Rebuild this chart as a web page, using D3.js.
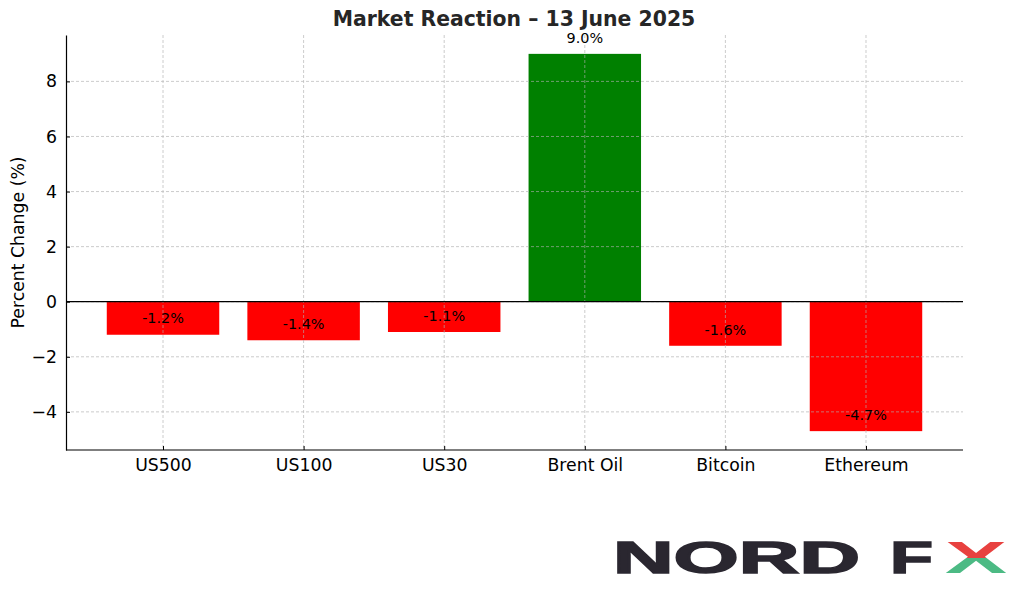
<!DOCTYPE html>
<html><head><meta charset="utf-8">
<script src="https://cdn.jsdelivr.net/npm/d3@7"></script>
<style>html,body{margin:0;padding:0;background:#fff;}svg{display:block;}</style>
</head><body>
<svg id="chart" width="1024" height="591"></svg>
<script>
const categories = ["US500","US100","US30","Brent Oil","Bitcoin","Ethereum"];
const values = [-1.2,-1.4,-1.1,9.0,-1.6,-4.7];
const yTicks = [-4,-2,0,2,4,6,8];
const titleText = "Market Reaction \u2013 13 June 2025";
const yLabel = "Percent Change (%)";

const svg = d3.select("#chart");
const m = {left:66, right:963, top:35, bottom:450};

const x = d3.scaleLinear().domain([-0.69, 5.69]).range([m.left, m.right]);
const y = d3.scaleLinear().domain([-5.385, 9.685]).range([m.bottom, m.top]);
const bw = 0.8;

const font = "'DejaVu Sans', sans-serif";

// bars
svg.append("g").selectAll("rect").data(values).join("rect")
  .attr("x", (d,i)=>x(i-bw/2))
  .attr("width", (d,i)=>x(i+bw/2)-x(i-bw/2))
  .attr("y", d=>y(Math.max(0,d)))
  .attr("height", d=>Math.abs(y(d)-y(0)))
  .attr("fill", d=> d>=0 ? "#008000" : "#ff0000");

// grid
const grid = svg.append("g").attr("stroke","#b0b0b0").attr("stroke-width",0.8).attr("stroke-dasharray","3,2").attr("opacity",0.8);
grid.selectAll("line.h").data(yTicks).join("line").attr("class","h")
  .attr("x1",m.left).attr("x2",m.right).attr("y1",d=>y(d)).attr("y2",d=>y(d));
grid.selectAll("line.v").data(categories).join("line").attr("class","v")
  .attr("x1",(d,i)=>x(i)).attr("x2",(d,i)=>x(i)).attr("y1",m.top).attr("y2",m.bottom);

// zero line
svg.append("line").attr("x1",m.left).attr("x2",m.right).attr("y1",y(0)).attr("y2",y(0))
  .attr("stroke","#000").attr("stroke-width",1.3);

// axes
const yAxis = d3.axisLeft(y).tickValues(yTicks).tickSizeInner(-4).tickSizeOuter(0).tickPadding(9)
  .tickFormat(d=> d<0 ? "\u2212"+Math.abs(d) : String(d));
const gy = svg.append("g").attr("transform",`translate(${m.left},0)`).call(yAxis);
gy.select(".domain").attr("stroke","#000").attr("stroke-width",1.2);
gy.selectAll("text").attr("font-family",font).attr("font-size","17.3px").attr("fill","#000");

const xAxis = d3.axisBottom(x).tickValues(d3.range(categories.length)).tickSizeInner(-4).tickSizeOuter(0).tickPadding(9)
  .tickFormat(i=>categories[i]);
const gx = svg.append("g").attr("transform",`translate(0,${m.bottom})`).call(xAxis);
gx.select(".domain").attr("stroke","#000").attr("stroke-width",1.2).attr("d",`M${m.left},0H${m.right}`);
gx.selectAll("text").attr("font-family",font).attr("font-size","17.3px").attr("fill","#000");

// bar labels
svg.append("g").selectAll("text").data(values).join("text")
  .attr("x",(d,i)=>x(i))
  .attr("y",d=>y(d+0.3)-3)
  .attr("text-anchor","middle")
  .attr("font-family",font).attr("font-size","14.4px").attr("fill","#000")
  .text(d=>d.toFixed(1)+"%");

// title
svg.append("text").attr("x",514).attr("y",26).attr("text-anchor","middle")
  .attr("font-family",font).attr("font-weight","bold").attr("font-size","20.4px").attr("fill","#262626")
  .text(titleText);

// y label
svg.append("text").attr("transform",`translate(23.5,${(m.top+m.bottom)/2}) rotate(-90)`)
  .attr("text-anchor","middle").attr("font-family",font).attr("font-size","17.3px").attr("fill","#000")
  .text(yLabel);

// logo
const defs = svg.append("defs");
const lg = defs.append("linearGradient").attr("id","xgrad").attr("x1",0).attr("y1",0).attr("x2",0).attr("y2",1);
lg.append("stop").attr("offset","0.5").attr("stop-color","#e8413f");
lg.append("stop").attr("offset","0.5").attr("stop-color","#4cba84");
const logo = svg.append("g").attr("font-family","'Liberation Sans', Arial, sans-serif").attr("font-weight","900").attr("font-size","44px");
logo.append("text").attr("x",613).attr("y",573).attr("textLength",247).attr("lengthAdjust","spacingAndGlyphs")
  .attr("fill","#2a2730").attr("stroke","#2a2730").attr("stroke-width",1.5).text("NORD");
logo.append("text").attr("x",890).attr("y",573).attr("textLength",43).attr("lengthAdjust","spacingAndGlyphs")
  .attr("fill","#2a2730").attr("stroke","#2a2730").attr("stroke-width",1.5).text("F");
logo.append("text").attr("x",945).attr("y",573).attr("textLength",62).attr("lengthAdjust","spacingAndGlyphs")
  .attr("fill","url(#xgrad)").text("X");
</script>
</body></html>
